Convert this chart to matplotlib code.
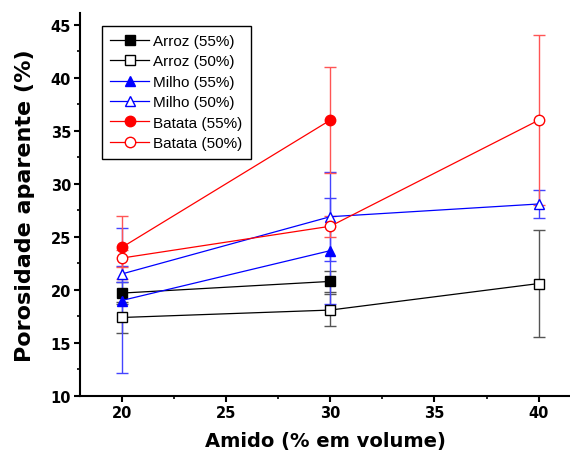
#----------------------------Porosidade aparente x teor de amido----------------------------
import matplotlib
matplotlib.use("Agg")
import matplotlib.pyplot as plt
from matplotlib.ticker import MultipleLocator

#----------------------------dados----------------------------
amido = [20, 30, 40]

arroz55 = [19.7, 20.8]
arroz55_err = [1.0, 1.0]
arroz50 = [17.4, 18.1, 20.6]
arroz50_err = [1.5, 1.5, 5.0]

milho55 = [19.0, 23.7]
milho55_err = [6.8, 5.0]
milho50 = [21.5, 26.9, 28.1]
milho50_err = [0.8, 4.2, 1.35]

batata55 = [24.0, 36.0]
batata55_err = [3.0, 5.0]
batata50 = [23.0, 26.0, 36.0]
batata50_err = [0.8, 1.0, 8.0]

plt.rcParams['font.family'] = ['Liberation Sans', 'DejaVu Sans']
fonte_eixo = 'DejaVu Sans'  # negrito largo, como no original

fig = plt.figure(figsize=(5.7, 4.64), dpi=100)
ax = fig.add_axes([0.1404, 0.1444, 0.8596, 0.8254])

series = [
    (amido[:2], arroz55, arroz55_err, 'black', 's', 'black', 'Arroz (55%)', '#555555'),
    (amido, arroz50, arroz50_err, 'black', 's', 'white', 'Arroz (50%)', '#555555'),
    (amido[:2], milho55, milho55_err, 'blue', '^', 'blue', 'Milho (55%)', '#4444ff'),
    (amido, milho50, milho50_err, 'blue', '^', 'white', 'Milho (50%)', '#4444ff'),
    (amido[:2], batata55, batata55_err, 'red', 'o', 'red', 'Batata (55%)', '#ff5555'),
    (amido, batata50, batata50_err, 'red', 'o', 'white', 'Batata (50%)', '#ff5555'),
]

for x, y, e, cor, mk, face, nome, cor_err in series:
    ax.errorbar(x, y, yerr=e, fmt='none', ecolor=cor_err, elinewidth=1.0,
                capsize=4, capthick=1.0, zorder=2)
    ms = 7.5 if mk != 's' else 6.5
    ax.plot(x, y, color=cor, lw=0.9, marker=mk, markersize=ms,
            markerfacecolor=face, markeredgecolor=cor, markeredgewidth=1.0,
            label=nome, zorder=3)

ax.set_xlim(18, 41.5)
ax.set_ylim(10, 46.1)
ax.xaxis.set_major_locator(MultipleLocator(5))
ax.xaxis.set_minor_locator(MultipleLocator(2.5))
ax.yaxis.set_major_locator(MultipleLocator(5))
ax.yaxis.set_minor_locator(MultipleLocator(2.5))

for s in ['top', 'right']:
    ax.spines[s].set_visible(False)
for s in ['left', 'bottom']:
    ax.spines[s].set_linewidth(1.5)

ax.tick_params(which='major', direction='out', length=4.5, width=1.5, labelsize=10.5, pad=2)
ax.tick_params(which='minor', direction='out', length=2.5, width=1.2)
for lab in ax.get_xticklabels() + ax.get_yticklabels():
    lab.set_fontweight('bold')
    lab.set_family(fonte_eixo)

ax.set_xlabel('Amido (% em volume)', fontsize=14, fontweight='bold',
              family=fonte_eixo, labelpad=8)
ax.set_ylabel('Porosidade aparente (%)', fontsize=16, fontweight='bold',
              family=fonte_eixo, labelpad=11)

leg = ax.legend(loc='upper left', bbox_to_anchor=(0.045, 0.967), fontsize=11,
                frameon=True, fancybox=False, edgecolor='black', framealpha=1,
                handlelength=2.5, labelspacing=0.42, borderpad=0.55,
                handletextpad=0.3, borderaxespad=0)
leg.get_frame().set_linewidth(1.0)

fig.savefig('out.png', dpi=100)
